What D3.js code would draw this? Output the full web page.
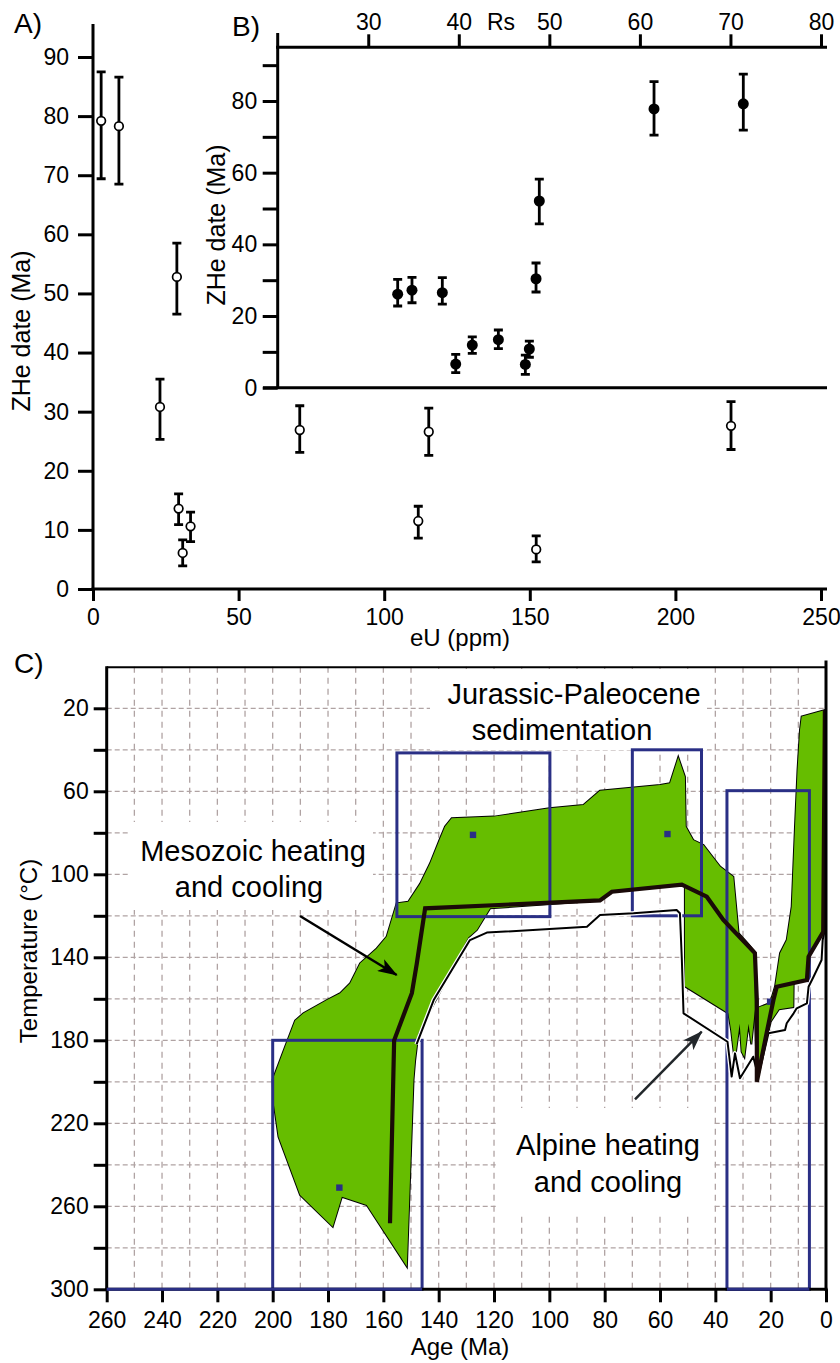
<!DOCTYPE html>
<html>
<head>
<meta charset="utf-8">
<script src="https://cdn.jsdelivr.net/npm/d3@7"></script>
<style>
  body { margin: 0; background: #fff; }
  svg { display: block; font-family: "Liberation Sans", Arial, Helvetica, sans-serif; }
</style>
</head>
<body>
<svg id="chart" width="840" height="1363"></svg>
<script>
// ---- panel A: eU vs ZHe date (open circles) ----
let eU     = [2.8, 8.9, 28.8, 23.0, 29.4, 33.5, 30.8, 71.0, 111.7, 115.3, 152.2, 219.1];
let dateA  = [79.2, 78.3, 52.8, 30.8, 13.6, 10.6, 6.1, 26.9, 11.5, 26.6, 6.7, 27.6];
let loA    = [69.4, 68.5, 46.5, 25.3, 10.9, 8.0, 3.9, 23.1, 8.6, 22.6, 4.6, 23.6];
let hiA    = [87.5, 86.6, 58.5, 35.5, 16.1, 13.0, 8.3, 31.0, 14.0, 30.6, 9.0, 31.7];
let ticksAx = [0, 50, 100, 150, 200, 250];
let ticksAy = [0, 10, 20, 30, 40, 50, 60, 70, 80, 90];

// ---- panel B: Rs vs ZHe date (filled circles) ----
let rs     = [33.25, 34.83, 38.18, 39.66, 41.49, 44.37, 47.35, 47.79, 48.53, 48.89, 61.56, 71.42];
let dateB  = [26.1, 27.2, 26.5, 6.6, 11.9, 13.4, 6.5, 10.8, 30.4, 52.1, 77.8, 79.2];
let loB    = [22.8, 23.7, 23.3, 4.2, 9.6, 10.9, 3.7, 8.5, 26.7, 45.7, 70.5, 71.9];
let hiB    = [30.2, 30.8, 30.7, 9.3, 14.2, 16.1, 9.1, 13.0, 34.8, 58.2, 85.4, 87.5];
let ticksBx = [30, 40, 50, 60, 70, 80];
let ticksBy = [0, 10, 20, 30, 40, 50, 60, 70, 80, 90];

// ---- panel C: thermal history model [age Ma, temperature C] ----
let envelopeMain = [
  [200,199],[195.5,183],[191.9,170.5],[188.9,167],[180.4,160.6],[175.6,157.3],[172,152.5],
  [168.4,142.9],[162.4,135.7],[158.8,130],[155.2,114],[151,113.2],[146.7,104.5],[143.1,94.7],
  [139.5,82.7],[137.7,77],[135.3,73],[120,72.2],[100,68.2],[87.7,66.6],[81.7,59.7],[60,57],
  [56.4,56.1],[53.4,43.6],[51,53],[50.7,77],[48,83.5],[44.3,85.9],[38.3,96.3],[33.5,101.2],
  [31.6,128.4],[28.5,133],[25.9,137],[25.7,165],[27,182],[28,172],[29.5,188],[30.5,185.5],
  [31.2,172],[33,190],[34.3,175],[35.3,167],[51,154],[51,106],[52.1,105],[77.4,108.4],
  [81.7,112.6],[121.4,116.4],[126.2,126.8],[129.3,130.5],[147.3,176.6],[148.5,189.5],
  [149.1,199],[151.5,289],[166,259.4],[175,255.4],[178.3,269.8],[190.1,254.5],[197.9,226.5],
  [199.8,208.8]
];
let envelopeRight = [
  [25.7,165],[24,164],[20.2,162],[18.4,154],[16.6,138],[14.2,131.7],[12.4,115.6],[11.2,77],
  [10.3,50],[9.4,30.5],[8.8,24],[0.3,20.8],[0,20.8],[0,126],[1,128],[6.3,140],[6.9,151],
  [11.7,152],[11.8,164],[17,165],[20,171],[22.5,186],[25,197]
];
let bestPath = [
  [157.6,268.2],[156.1,180],[149.7,157.3],[147.9,142.9],[144.9,116.4],[81.7,112.6],[77.4,108.4],
  [52.1,105],[43.1,110.8],[37.1,122],[25.7,138],[25,160.6],[25,200],[22,180],[19,160.6],
  [17.8,154.2],[6.9,151],[6.3,139.7],[1,127.7],[0.4,20.8]
];
let meanPath = [
  [148,182],[141.8,160.6],[128.7,131.7],[122.6,128.1],[86.4,125.3],[81.7,119.6],[69.6,118.8],
  [54,117.2],[52.8,118.8],[52.1,141.3],[51.5,167],[35.6,180.7],[34.1,197.5],[32.9,186.3],
  [31.1,198.3],[26.3,187.9],[24.5,197.5],[20.8,176.6],[14.8,175],[14.2,171.8],[11.7,167],
  [10.6,164.6],[6.9,162.2],[6.3,154.2],[4.5,149.4],[1.6,141.3],[1.2,131.7],[0.3,126]
];
// constraint boxes: [old age, young age, top T, bottom T]
let boxes = [[200,146,180,300],[155.1,99.8,41.5,120.4],[70,45,40,120],[35.8,6,59.7,300]];
let boxMarks = [[175.9,251],[127.6,81],[57.3,80.6],[20.2,161.4]];
let ticksCx = d3.range(0, 261, 20);
let ticksCy = d3.range(20, 301, 20);

const svg = d3.select("#chart");
const tickFont = 23;
const green = "#66bd00";
const navy = "#2a2f85";

function styleAxis(g, size) {
  g.select(".domain").remove();
  g.selectAll(".tick line").attr("stroke", "#000").attr("stroke-width", 3);
  g.selectAll(".tick text").attr("fill", "#000").style("font-size", size + "px")
    .style("font-family", "'Liberation Sans', Arial, sans-serif");
}

function errorBars(g, xs, ys, lo, hi, x, y, filled) {
  let idx = d3.range(xs.length);
  g.selectAll(null).data(idx).enter().append("path")
    .attr("d", i => {
      let cx = x(xs[i]);
      return `M${cx},${y(lo[i])}V${y(hi[i])}M${cx - 4.5},${y(lo[i])}h9M${cx - 4.5},${y(hi[i])}h9`;
    })
    .attr("stroke", "#000").attr("stroke-width", 2.8).attr("fill", "none");
  g.selectAll(null).data(idx).enter().append("circle")
    .attr("cx", i => x(xs[i])).attr("cy", i => y(ys[i]))
    .attr("r", filled ? 5.5 : 4.3)
    .attr("fill", filled ? "#000" : "#fff")
    .attr("stroke", "#000").attr("stroke-width", filled ? 0 : 1.7);
}

// ================= panel A =================
let xA = d3.scaleLinear().domain([0, 250]).range([93, 821]);
let yA = d3.scaleLinear().domain([0, 90]).range([589, 57]);
let gA = svg.append("g");

gA.append("g").attr("transform", "translate(93,0)")
  .call(d3.axisLeft(yA).tickValues(ticksAy).tickSize(15).tickPadding(9))
  .call(g => styleAxis(g, tickFont));
gA.append("g").attr("transform", "translate(0,589)")
  .call(d3.axisBottom(xA).tickValues(ticksAx).tickSize(12).tickPadding(8))
  .call(g => styleAxis(g, tickFont));
gA.append("line").attr("x1", 93).attr("x2", 93).attr("y1", 24).attr("y2", 589)
  .attr("stroke", "#000").attr("stroke-width", 3);
gA.append("line").attr("x1", 91.5).attr("x2", 827).attr("y1", 589).attr("y2", 589)
  .attr("stroke", "#000").attr("stroke-width", 3);
errorBars(gA, eU, dateA, loA, hiA, xA, yA, false);

gA.append("text").attr("x", 14).attr("y", 33).style("font-size", "28px").text("A)");
gA.append("text").attr("transform", "translate(30,331) rotate(-90)")
  .attr("text-anchor", "middle").style("font-size", "25px").text("ZHe date (Ma)");
gA.append("text").attr("x", 460).attr("y", 646).attr("text-anchor", "middle")
  .style("font-size", "24px").text("eU (ppm)");

// ================= panel B (inset) =================
let xB = d3.scaleLinear().domain([20, 80]).range([277.7, 821]);
let yB = d3.scaleLinear().domain([0, 80]).range([387.7, 101]);
let gB = svg.append("g");

gB.append("g").attr("transform", "translate(277.7,0)")
  .call(d3.axisLeft(yB).tickValues(ticksBy).tickSize(15).tickPadding(5.5)
    .tickFormat(d => d % 20 === 0 ? d : ""))
  .call(g => styleAxis(g, tickFont));
gB.append("g").attr("transform", "translate(0,47.3)")
  .call(d3.axisTop(xB).tickValues(ticksBx).tickSize(13).tickPadding(4))
  .call(g => styleAxis(g, tickFont));
gB.append("line").attr("x1", 277.7).attr("x2", 277.7).attr("y1", 33).attr("y2", 389)
  .attr("stroke", "#000").attr("stroke-width", 3);
gB.append("line").attr("x1", 276).attr("x2", 827).attr("y1", 47.3).attr("y2", 47.3)
  .attr("stroke", "#000").attr("stroke-width", 3);
gB.append("line").attr("x1", 263).attr("x2", 827).attr("y1", 387.7).attr("y2", 387.7)
  .attr("stroke", "#000").attr("stroke-width", 3);
errorBars(gB, rs, dateB, loB, hiB, xB, yB, true);

gB.append("text").attr("x", 232).attr("y", 36).style("font-size", "28px").text("B)");
gB.append("text").attr("x", 501).attr("y", 30).attr("text-anchor", "middle")
  .style("font-size", tickFont + "px").text("Rs");
gB.append("text").attr("transform", "translate(225,225) rotate(-90)")
  .attr("text-anchor", "middle").style("font-size", "25px").text("ZHe date (Ma)");

// ================= panel C =================
let xC = d3.scaleLinear().domain([260, 0]).range([106.7, 826]);
let yC = d3.scaleLinear().domain([0, 300]).range([666.8, 1289.3]);
let gC = svg.append("g");
let line = d3.line().x(d => xC(d[0])).y(d => yC(d[1]));

// grid
gC.selectAll(null).data(d3.range(20, 300, 20)).enter().append("line")
  .attr("x1", xC(260)).attr("x2", xC(0)).attr("y1", d => yC(d)).attr("y2", d => yC(d))
  .attr("stroke", "#b0a3a3").attr("stroke-width", 1.3).attr("stroke-dasharray", "5,3");
gC.selectAll(null).data(d3.range(10, 260, 10)).enter().append("line")
  .attr("x1", d => xC(d)).attr("x2", d => xC(d)).attr("y1", yC(0)).attr("y2", yC(300))
  .attr("stroke", "#b0a3a3").attr("stroke-width", 1.3).attr("stroke-dasharray", "6,5");

// white backgrounds behind annotations
[[130, 822, 243, 88], [430, 669, 277, 81], [498, 1108, 214, 104]].forEach(r => {
  gC.append("rect").attr("x", r[0]).attr("y", r[1]).attr("width", r[2]).attr("height", r[3])
    .attr("fill", "#fff");
});

// envelope: outline first, fill on top so only the outer edge of the union shows
let shapes = [envelopeMain, envelopeRight];
gC.selectAll(null).data(shapes).enter().append("path")
  .attr("d", d => line(d) + "Z").attr("fill", "none").attr("stroke", "#000").attr("stroke-width", 2);
gC.selectAll(null).data(shapes).enter().append("path")
  .attr("d", d => line(d) + "Z").attr("fill", green);

// constraint boxes
gC.selectAll(null).data(boxes).enter().append("rect")
  .attr("x", d => xC(d[0])).attr("y", d => yC(d[2]))
  .attr("width", d => xC(d[1]) - xC(d[0])).attr("height", d => yC(d[3]) - yC(d[2]))
  .attr("fill", "none").attr("stroke", navy).attr("stroke-width", 3);
gC.selectAll(null).data(boxMarks).enter().append("rect")
  .attr("x", d => xC(d[0]) - 3.2).attr("y", d => yC(d[1]) - 3.2)
  .attr("width", 6.4).attr("height", 6.4).attr("fill", navy);

// paths
gC.append("path").attr("d", line(meanPath)).attr("fill", "none")
  .attr("stroke", "#fff").attr("stroke-width", 4.5).attr("stroke-linejoin", "round");
gC.append("path").attr("d", line(meanPath)).attr("fill", "none")
  .attr("stroke", "#000").attr("stroke-width", 2).attr("stroke-linejoin", "round");
gC.append("path").attr("d", line(bestPath)).attr("fill", "none")
  .attr("stroke", "#1a0a08").attr("stroke-width", 4.2).attr("stroke-linejoin", "miter");

// axes
gC.append("g").attr("transform", "translate(106.7,0)")
  .call(d3.axisLeft(yC).tickValues(ticksCy).tickSize(13).tickPadding(5)
    .tickFormat(d => (d - 20) % 40 === 0 ? d : ""))
  .call(g => styleAxis(g, tickFont));
gC.append("g").attr("transform", "translate(0,1289.3)")
  .call(d3.axisBottom(xC).tickValues(ticksCx).tickSize(13).tickPadding(9))
  .call(g => styleAxis(g, tickFont));
gC.append("line").attr("x1", 106.7).attr("x2", 826).attr("y1", 667.3).attr("y2", 667.3)
  .attr("stroke", "#000").attr("stroke-width", 2);
gC.append("line").attr("x1", 106.7).attr("x2", 106.7).attr("y1", 666.3).attr("y2", 1290.8)
  .attr("stroke", "#000").attr("stroke-width", 3);
gC.append("line").attr("x1", 826).attr("x2", 826).attr("y1", 660.5).attr("y2", 1290.8)
  .attr("stroke", "#000").attr("stroke-width", 3);
gC.append("line").attr("x1", 105.2).attr("x2", 827.5).attr("y1", 1289.3).attr("y2", 1289.3)
  .attr("stroke", "#000").attr("stroke-width", 3);
gC.append("line").attr("x1", xC(260)).attr("x2", xC(146)).attr("y1", 1289.3).attr("y2", 1289.3)
  .attr("stroke", navy).attr("stroke-width", 3);
gC.append("line").attr("x1", xC(35.8)).attr("x2", xC(6)).attr("y1", 1289.3).attr("y2", 1289.3)
  .attr("stroke", navy).attr("stroke-width", 3);

// labels
gC.append("text").attr("x", 14).attr("y", 673).style("font-size", "28px").text("C)");
gC.append("text").attr("transform", "translate(37,951) rotate(-90)")
  .attr("text-anchor", "middle").style("font-size", "24px").text("Temperature (°C)");
gC.append("text").attr("x", 460).attr("y", 1355).attr("text-anchor", "middle")
  .style("font-size", "24px").text("Age (Ma)");

let notes = [
  ["Jurassic-Paleocene", 574, 704], ["sedimentation", 562, 740],
  ["Mesozoic heating", 253, 861], ["and cooling", 249, 897],
  ["Alpine heating", 608, 1155], ["and cooling", 608, 1192]
];
gC.selectAll(null).data(notes).enter().append("text")
  .attr("x", d => d[1]).attr("y", d => d[2]).attr("text-anchor", "middle")
  .style("font-size", "29px").text(d => d[0]);

// arrows
let defs = svg.append("defs");
[["headBlack", "#000"], ["headGrey", "#22272b"]].forEach(h => {
  defs.append("marker").attr("id", h[0]).attr("viewBox", "0 0 20 14")
    .attr("refX", 19).attr("refY", 7).attr("markerWidth", 20).attr("markerHeight", 14)
    .attr("markerUnits", "userSpaceOnUse").attr("orient", "auto")
    .append("path").attr("d", "M0,0 L20,7 L0,14 L5,7 Z").attr("fill", h[1]);
});
gC.append("line").attr("x1", 300).attr("y1", 916).attr("x2", 396.7).attr("y2", 975)
  .attr("stroke", "#000").attr("stroke-width", 2.5).attr("marker-end", "url(#headBlack)");
gC.append("line").attr("x1", 635).attr("y1", 1099.3).attr("x2", 701.7).attr("y2", 1031.7)
  .attr("stroke", "#22272b").attr("stroke-width", 2.5).attr("marker-end", "url(#headGrey)");
</script>
</body>
</html>
